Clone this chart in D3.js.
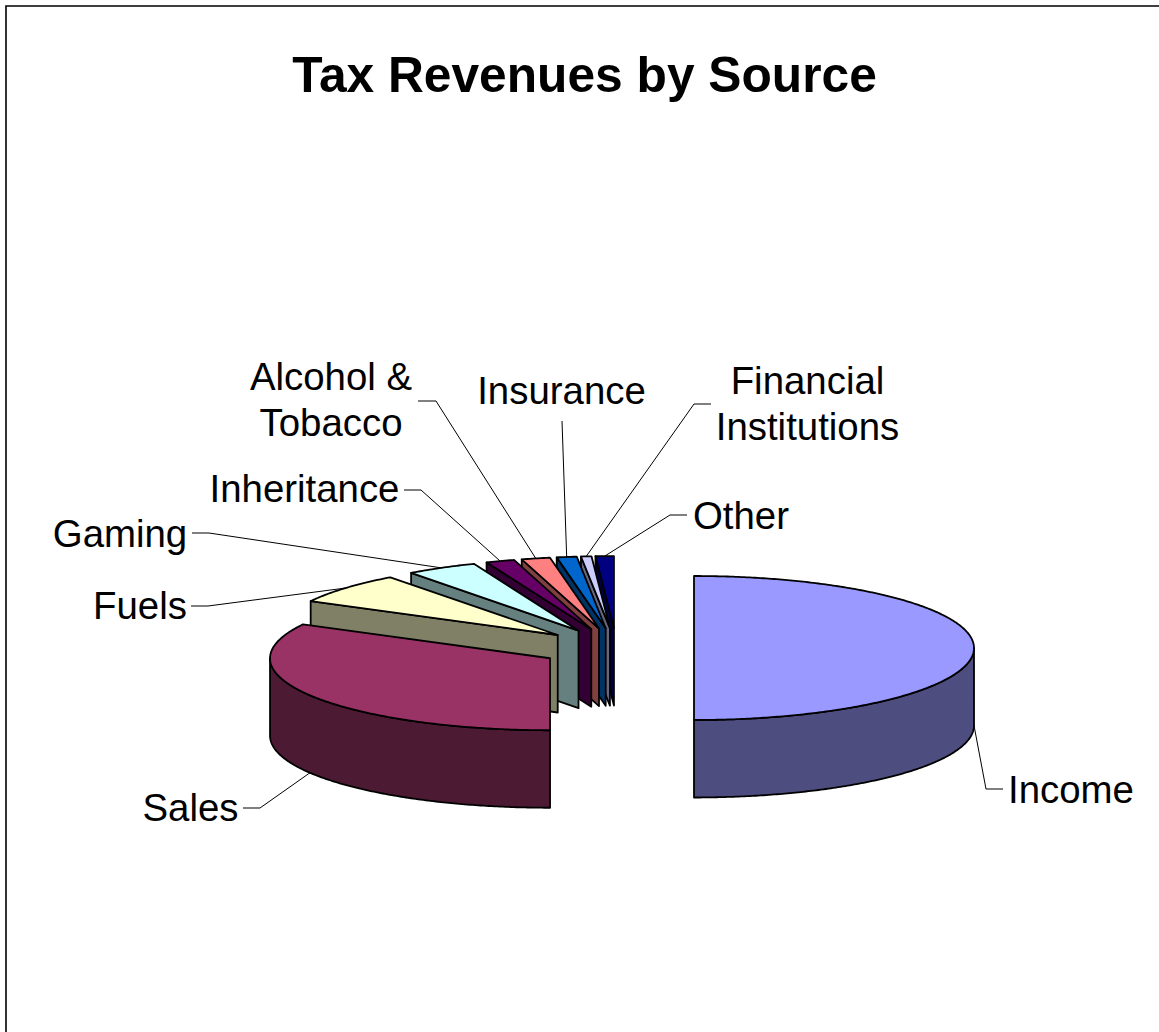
<!DOCTYPE html>
<html lang="en">
	<head>
		<meta charset="utf-8">
		<title>Tax Revenues by Source</title>
		<script src="https://d3js.org/d3.v7.min.js"></script>
		<style type="text/css">
			html, body { margin: 0; padding: 0; background: #fff; }
			svg { display: block; }
			text { font-family: "Liberation Sans", Arial, sans-serif; fill: #000; }
		</style>
	</head>
	<body>
		<script type="text/javascript">
			//Data (percent of total)
			var sources = ["Income", "Sales", "Fuels", "Gaming", "Inheritance", "Alcohol & Tobacco", "Insurance", "Financial Institutions", "Other"];
			var shares = [50, 32.8, 7, 4.1, 1.65, 1.65, 1.15, 0.6, 1.05];
			var topColors = ["#9999ff", "#993366", "#ffffcc", "#ccffff", "#660066", "#ff8080", "#0066cc", "#ccccff", "#000080"];
			var sideColors = ["#4d4d80", "#4d1a33", "#808066", "#668080", "#330033", "#804040", "#003366", "#666680", "#000040"];
			var labelLines = [["Income"], ["Sales"], ["Fuels"], ["Gaming"], ["Inheritance"], ["Alcohol &", "Tobacco"], ["Insurance"], ["Financial", "Institutions"], ["Other"]];

			//Label layout: text anchor, first baseline, leader elbow and leader end
			var labelX = [1071, 190.5, 140, 120, 304.5, 331, 561.5, 807.5, 741];
			var labelY = [803, 820.5, 618.5, 547, 502, 389.5, 404, 394, 529];
			var elbows = [[986, 789], [260, 808], [208, 606], [209, 533], [421, 490], [436, 401], null, [694, 404], [670, 515]];
			var leaderEnds = [[1003, 789], [243, 808], [191, 606], [192, 533], [404, 490], [418, 401], [562, 421], [711, 404], [687, 515]];

			//Width and height
			var w = 1159;
			var h = 1032;
			var cx = 616.5;
			var cy = 648;
			var explode = 77.5;
			var depth = 77.5;

			var xScale = d3.scaleLinear().domain([-1, 1]).range([-280, 280]);
			var yScale = d3.scaleLinear().domain([-1, 1]).range([-72, 72]);

			var pie = d3.pie().sort(null).startAngle(0).endAngle(2 * Math.PI);
			var line = d3.line();

			var slices = pie(shares).map(function(d, i) {
				var mid = (d.startAngle + d.endAngle) / 2;
				return {
					i: i,
					a0: d.startAngle,
					a1: d.endAngle,
					mid: mid,
					ox: cx + xScale(Math.sin(mid) * explode / 280),
					oy: cy + yScale(-Math.cos(mid) * explode / 280)
				};
			});

			//point on the rim of a slice, r is 0 at the slice tip and 1 at the rim
			function rim(s, a, r, drop) {
				return [s.ox + xScale(r * Math.sin(a)), s.oy + yScale(-r * Math.cos(a)) + (drop || 0)];
			}

			function arcPoints(s, a0, a1, drop) {
				var pts = d3.range(a0, a1, 0.01).map(function(a) { return rim(s, a, 1, drop); });
				pts.push(rim(s, a1, 1, drop));
				return pts;
			}

			//Create SVG element
			var svg = d3.select("body")
						.append("svg")
						.attr("width", w)
						.attr("height", h);

			svg.append("path")
				.attr("d", "M6,1032V6H1159")
				.attr("fill", "none")
				.attr("stroke", "#000")
				.attr("stroke-width", 1.6);

			svg.append("text")
				.attr("x", 584.5)
				.attr("y", 92)
				.attr("text-anchor", "middle")
				.attr("font-weight", "bold")
				.attr("font-size", 49.7)
				.text("Tax Revenues by Source");

			//Leaders go under the slices
			svg.selectAll("path.leader")
				.data(slices)
				.enter()
				.append("path")
				.attr("class", "leader")
				.attr("fill", "none")
				.attr("stroke", "#000")
				.attr("stroke-width", 1)
				.attr("d", function(s) {
					var front = Math.cos(s.mid) <= 0;
					var pts = [rim(s, s.mid, 1, front ? depth : 0)];
					if (elbows[s.i]) pts.push(elbows[s.i]);
					pts.push(leaderEnds[s.i]);
					return line(pts);
				});

			//Back to front: last slices first, Sales over Fuels over Gaming
			var order = slices.slice().reverse();
			var g = svg.selectAll("g.slice")
				.data(order)
				.enter()
				.append("g")
				.attr("class", "slice")
				.attr("stroke", "#000")
				.attr("stroke-width", 1.8)
				.attr("stroke-linejoin", "round");

			//cut face under the leading edge
			g.filter(function(s) { return Math.sin(s.a0) < -0.01; })
				.append("path")
				.attr("fill", function(s) { return sideColors[s.i]; })
				.attr("d", function(s) {
					return line([rim(s, s.a0, 0), rim(s, s.a0, 1), rim(s, s.a0, 1, depth), rim(s, s.a0, 0, depth)]) + "Z";
				});

			//outer wall, only the front half of the rim shows
			g.filter(function(s) { return s.a1 > Math.PI / 2 && s.a0 < 3 * Math.PI / 2; })
				.append("path")
				.attr("fill", function(s) { return sideColors[s.i]; })
				.attr("d", function(s) {
					var a0 = Math.max(s.a0, Math.PI / 2);
					var a1 = Math.min(s.a1, 3 * Math.PI / 2);
					return line(arcPoints(s, a0, a1, 0).concat(arcPoints(s, a0, a1, depth).reverse())) + "Z";
				});

			//top of the slice
			g.append("path")
				.attr("fill", function(s) { return topColors[s.i]; })
				.attr("d", function(s) {
					return line([rim(s, s.a0, 0)].concat(arcPoints(s, s.a0, s.a1, 0))) + "Z";
				});

			//Labels
			svg.selectAll("text.label")
				.data(sources)
				.enter()
				.append("text")
				.attr("class", "label")
				.attr("text-anchor", "middle")
				.attr("font-size", 38.4)
				.attr("y", function(d, i) { return labelY[i]; })
				.each(function(d, i) {
					d3.select(this).selectAll("tspan")
						.data(labelLines[i])
						.enter()
						.append("tspan")
						.attr("x", labelX[i])
						.attr("dy", function(l, j) { return j === 0 ? 0 : 46; })
						.text(function(l) { return l; });
				});
		</script>
	</body>
</html>
